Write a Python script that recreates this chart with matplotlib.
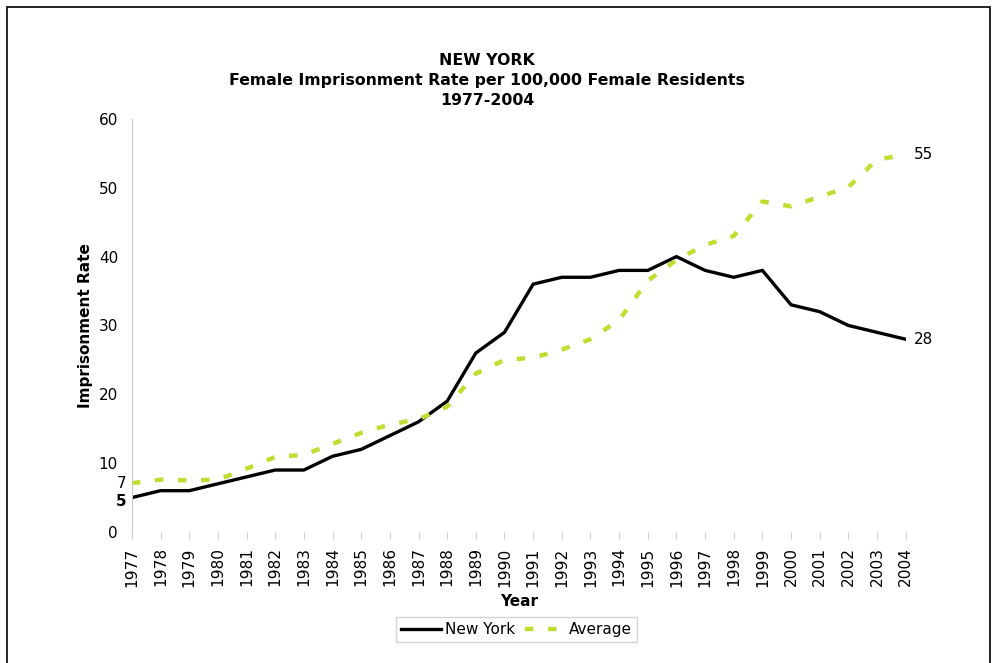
import numpy as np
import matplotlib.pyplot as plt
from matplotlib.patches import Rectangle

# female imprisonment rate, New York vs average of states
years = list(range(1977, 2005))
new_york = [5, 6, 6, 7, 8, 9, 9, 11, 12, 14, 16, 19, 26, 29,
            36, 37, 37, 38, 38, 40, 38, 37, 38, 33, 32, 30, 29, 28]
average = [7.1, 7.6, 7.5, 7.6, 9.2, 10.9, 11.2, 12.8, 14.4, 15.6, 16.4, 18.2, 23.0, 25.0,
           25.3, 26.5, 28.0, 30.8, 36.5, 39.5, 41.7, 43.0, 48.0, 47.3, 48.7, 50.1, 54.1, 54.8]
y_ticks = [0, 10, 20, 30, 40, 50, 60]

green = "#c3dc32"

fig = plt.figure(figsize=(9.92, 6.63), dpi=100)
ax = fig.add_axes([0.133, 0.1976, 0.78, 0.623])

ax.plot(years, new_york, color="black", lw=2.4, label="New York", solid_joinstyle="miter")
ax.plot(years, average, color=green, lw=3.2, dashes=(1.9, 3.3), label="Average")

ax.set_xlim(1977, 2004)
ax.set_ylim(0, 60)
ax.set_yticks(y_ticks)
ax.set_xticks(years)
ax.set_xticklabels([str(y) for y in years], rotation=90, fontsize=11.1)
ax.tick_params(axis="y", length=0, labelsize=11, pad=10)
ax.tick_params(axis="x", length=5, color="#d0d0d0", direction="out", pad=6)

for s in ["top", "right", "bottom"]:
    ax.spines[s].set_visible(False)
ax.spines["left"].set_color("#c8c8c8")

# end labels
ax.annotate(str(new_york[-1]), (years[-1], new_york[-1]), xytext=(6, 0),
            textcoords="offset points", va="center", fontsize=11)
ax.annotate(str(round(average[-1])), (years[-1], average[-1]), xytext=(6, 0),
            textcoords="offset points", va="center", fontsize=11)
ax.annotate(str(new_york[0]), (years[0], new_york[0]), xytext=(-4, -3),
            textcoords="offset points", va="center", ha="right", fontsize=11,
            fontweight="bold")
ax.annotate(str(round(average[0])), (years[0], average[0]), xytext=(-4, 0),
            textcoords="offset points", va="center", ha="right", fontsize=11)

ax.set_ylabel("Imprisonment Rate", fontsize=11, fontweight="bold", labelpad=4)
ax.set_xlabel("Year", fontsize=11, fontweight="bold", labelpad=5)

fig.text(0.491, 0.879, "NEW YORK\nFemale Imprisonment Rate per 100,000 Female Residents\n1977-2004",
         ha="center", va="center", fontsize=11.3, fontweight="bold", linespacing=1.4)

leg = ax.legend(loc="center", bbox_to_anchor=(0.497, -0.236), ncol=2, fontsize=11,
                frameon=True, fancybox=False, edgecolor="#c8c8c8", handlelength=2.6,
                handletextpad=0.3, columnspacing=0.6, borderpad=0.3)

# outer frame
fig.patches.append(Rectangle((0.007, -0.01), 0.991, 1.0, transform=fig.transFigure,
                             fill=False, edgecolor="black", lw=1.2))

plt.savefig("out.png", dpi=100)
